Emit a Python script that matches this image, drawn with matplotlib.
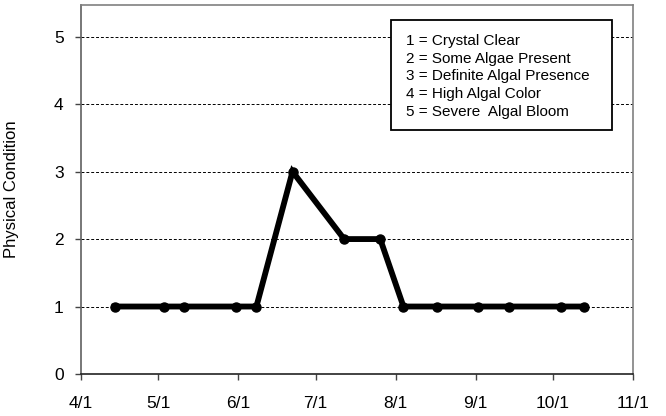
import matplotlib
matplotlib.use("Agg")
import matplotlib.pyplot as plt
from matplotlib.patches import Rectangle
import datetime as dt

plt.rcParams['font.family'] = ['Liberation Sans', 'DejaVu Sans']

# Sampling dates and observed physical condition scores
dates = ["2000-04-14", "2000-05-03", "2000-05-11", "2000-05-31", "2000-06-08",
         "2000-06-22", "2000-07-12", "2000-07-26", "2000-08-04", "2000-08-17",
         "2000-09-02", "2000-09-14", "2000-10-04", "2000-10-13"]
condition = [1, 1, 1, 1, 1, 3, 2, 2, 1, 1, 1, 1, 1, 1]

tick_dates = ["2000-04-01", "2000-05-01", "2000-06-01", "2000-07-01",
              "2000-08-01", "2000-09-01", "2000-10-01", "2000-11-01"]
tick_labels = ["4/1", "5/1", "6/1", "7/1", "8/1", "9/1", "10/1", "11/1"]

legend_lines = ["1 = Crystal Clear", "2 = Some Algae Present",
                "3 = Definite Algal Presence", "4 = High Algal Color",
                "5 = Severe  Algal Bloom"]

x = [dt.datetime.strptime(d, "%Y-%m-%d") for d in dates]
xt = [dt.datetime.strptime(d, "%Y-%m-%d") for d in tick_dates]

fig = plt.figure(figsize=(6.66, 4.16), dpi=100)
ax = fig.add_axes([0.1216, 0.101, 0.9505 - 0.1216, 0.988 - 0.101])

for yv in range(1, 6):
    ax.axhline(yv, color='black', lw=0.7, ls=(0, (3, 2)), zorder=1)

ax.plot(x, condition, color='black', lw=4.2, marker='o', markersize=6.5,
        solid_joinstyle='miter', zorder=3, clip_on=False)

ax.set_xlim(xt[0], xt[-1])
ax.set_ylim(0, 5.47)
ax.set_xticks(xt)
ax.set_xticklabels(tick_labels)
ax.set_yticks(range(0, 6))
ax.tick_params(axis='both', labelsize=12.5, length=4.5, width=1, direction='out', color='#444444')
ax.tick_params(axis='x', pad=11)
ax.tick_params(axis='y', pad=8)

for side in ['top', 'right']:
    ax.spines[side].set_color('#808080')
    ax.spines[side].set_linewidth(1.2)
ax.spines['left'].set_color('#606060')
ax.spines['left'].set_linewidth(1.2)
ax.spines['bottom'].set_color('#222222')
ax.spines['bottom'].set_linewidth(1.2)

ax.set_ylabel("Physical Condition", fontsize=12)
ax.yaxis.set_label_coords(-0.113, 0.5)

# Key explaining the condition scale
ax.add_patch(Rectangle((0.5616, 0.6612), 0.4004, 0.2981, transform=ax.transAxes,
                       facecolor='white', edgecolor='black', linewidth=1.3, zorder=5))
line_step = 0.0485
for i, line in enumerate(legend_lines):
    ax.text(0.5879, 0.9033 - i * line_step, line, transform=ax.transAxes,
            fontsize=11, va='center', ha='left', zorder=6)

fig.savefig("out.png", dpi=100)
